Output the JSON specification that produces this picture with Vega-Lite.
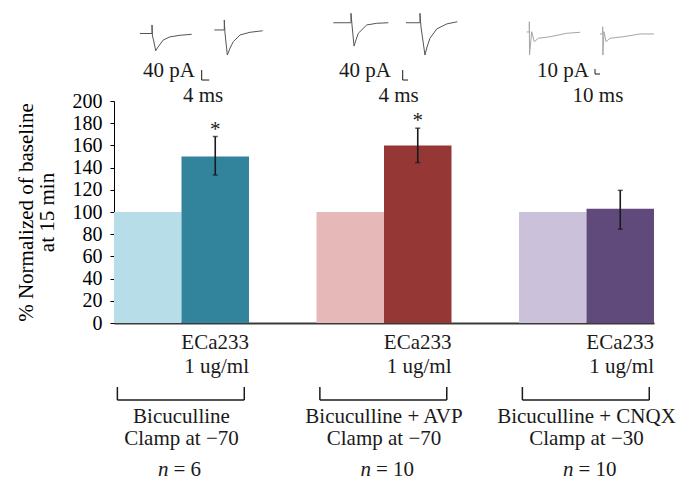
{
  "$schema": "https://vega.github.io/schema/vega-lite/v6.json",
  "width": 540,
  "height": 222,
  "autosize": {"type": "none"},
  "padding": {"left": 114, "top": 101, "right": 35, "bottom": 166},
  "background": "white",
  "config": {"font": "Liberation Serif", "view": {"stroke": null}},
  "datasets": {
    "bars": [
      {"group": "Bicuculline", "treatment": "Baseline", "start": 0, "mid": 0.5, "end": 1, "value": 100},
      {"group": "Bicuculline", "treatment": "ECa233 1 ug/ml", "start": 1, "mid": 1.5, "end": 2, "value": 150, "lo": 133.3, "hi": 168, "sig": "*"},
      {"group": "Bicuculline + AVP", "treatment": "Baseline", "start": 3, "mid": 3.5, "end": 4, "value": 100},
      {"group": "Bicuculline + AVP", "treatment": "ECa233 1 ug/ml", "start": 4, "mid": 4.5, "end": 5, "value": 160, "lo": 144.5, "hi": 175.5, "sig": "*"},
      {"group": "Bicuculline + CNQX", "treatment": "Baseline", "start": 6, "mid": 6.5, "end": 7, "value": 100},
      {"group": "Bicuculline + CNQX", "treatment": "ECa233 1 ug/ml", "start": 7, "mid": 7.5, "end": 8, "value": 103, "lo": 84.5, "hi": 119.5}
    ],
    "groups": [
      {"start": 0, "center": 1, "end": 2, "bl": 0.05, "br": 1.93, "drug": "ECa233", "dose": "1 ug/ml", "cond": "Bicuculline", "clamp": "Clamp at −70", "n": "= 6"},
      {"start": 3, "center": 4, "end": 5, "bl": 3.05, "br": 4.93, "drug": "ECa233", "dose": "1 ug/ml", "cond": "Bicuculline + AVP", "clamp": "Clamp at −70", "n": "= 10"},
      {"start": 6, "center": 7, "end": 8, "bl": 6.05, "br": 7.93, "drug": "ECa233", "dose": "1 ug/ml", "cond": "Bicuculline + CNQX", "clamp": "Clamp at −30", "n": "= 10"}
    ],
    "traces": [
      {"trace": "t1", "kind": "dark", "i": 0, "t": 0.385, "v": 260.8},
      {"trace": "t1", "kind": "dark", "i": 1, "t": 0.563, "v": 260.8},
      {"trace": "t1", "kind": "dark", "i": 2, "t": 0.563, "v": 268.5},
      {"trace": "t1", "kind": "dark", "i": 3, "t": 0.57, "v": 258.6},
      {"trace": "t1", "kind": "dark", "i": 4, "t": 0.585, "v": 255.0},
      {"trace": "t1", "kind": "dark", "i": 5, "t": 0.618, "v": 245.3},
      {"trace": "t1", "kind": "dark", "i": 6, "t": 0.652, "v": 248.6},
      {"trace": "t1", "kind": "dark", "i": 7, "t": 0.73, "v": 255.0},
      {"trace": "t1", "kind": "dark", "i": 8, "t": 0.83, "v": 257.8},
      {"trace": "t1", "kind": "dark", "i": 9, "t": 0.978, "v": 259.2},
      {"trace": "t1", "kind": "dark", "i": 10, "t": 1.151, "v": 260.1},
      {"trace": "t2", "kind": "dark", "i": 0, "t": 1.486, "v": 264.0},
      {"trace": "t2", "kind": "dark", "i": 1, "t": 1.634, "v": 264.0},
      {"trace": "t2", "kind": "dark", "i": 2, "t": 1.634, "v": 273.0},
      {"trace": "t2", "kind": "dark", "i": 3, "t": 1.644, "v": 261.3},
      {"trace": "t2", "kind": "dark", "i": 4, "t": 1.679, "v": 241.4},
      {"trace": "t2", "kind": "dark", "i": 5, "t": 1.719, "v": 247.7},
      {"trace": "t2", "kind": "dark", "i": 6, "t": 1.767, "v": 253.4},
      {"trace": "t2", "kind": "dark", "i": 7, "t": 1.867, "v": 259.5},
      {"trace": "t2", "kind": "dark", "i": 8, "t": 2.015, "v": 261.9},
      {"trace": "t2", "kind": "dark", "i": 9, "t": 2.203, "v": 263.3},
      {"trace": "t3", "kind": "dark", "i": 0, "t": 3.249, "v": 270.5},
      {"trace": "t3", "kind": "dark", "i": 1, "t": 3.511, "v": 270.5},
      {"trace": "t3", "kind": "dark", "i": 2, "t": 3.511, "v": 279.0},
      {"trace": "t3", "kind": "dark", "i": 3, "t": 3.526, "v": 268.5},
      {"trace": "t3", "kind": "dark", "i": 4, "t": 3.556, "v": 249.5},
      {"trace": "t3", "kind": "dark", "i": 5, "t": 3.585, "v": 255.0},
      {"trace": "t3", "kind": "dark", "i": 6, "t": 3.619, "v": 261.0},
      {"trace": "t3", "kind": "dark", "i": 7, "t": 3.744, "v": 268.5},
      {"trace": "t3", "kind": "dark", "i": 8, "t": 3.892, "v": 270.0},
      {"trace": "t3", "kind": "dark", "i": 9, "t": 4.064, "v": 270.5},
      {"trace": "t4", "kind": "dark", "i": 0, "t": 4.326, "v": 270.5},
      {"trace": "t4", "kind": "dark", "i": 1, "t": 4.533, "v": 270.5},
      {"trace": "t4", "kind": "dark", "i": 2, "t": 4.533, "v": 279.0},
      {"trace": "t4", "kind": "dark", "i": 3, "t": 4.548, "v": 266.7},
      {"trace": "t4", "kind": "dark", "i": 4, "t": 4.607, "v": 241.4},
      {"trace": "t4", "kind": "dark", "i": 5, "t": 4.637, "v": 248.6},
      {"trace": "t4", "kind": "dark", "i": 6, "t": 4.681, "v": 256.5},
      {"trace": "t4", "kind": "dark", "i": 7, "t": 4.781, "v": 264.9},
      {"trace": "t4", "kind": "dark", "i": 8, "t": 4.929, "v": 269.4},
      {"trace": "t4", "kind": "dark", "i": 9, "t": 5.086, "v": 271.4},
      {"trace": "t5", "kind": "light", "i": 0, "t": 6.114, "v": 262.2},
      {"trace": "t5", "kind": "light", "i": 1, "t": 6.153, "v": 262.2},
      {"trace": "t5", "kind": "light", "i": 2, "t": 6.153, "v": 271.4},
      {"trace": "t5", "kind": "light", "i": 3, "t": 6.156, "v": 241.4},
      {"trace": "t5", "kind": "light", "i": 4, "t": 6.188, "v": 262.4},
      {"trace": "t5", "kind": "light", "i": 5, "t": 6.227, "v": 253.4},
      {"trace": "t5", "kind": "light", "i": 6, "t": 6.286, "v": 256.5},
      {"trace": "t5", "kind": "light", "i": 7, "t": 6.459, "v": 257.9},
      {"trace": "t5", "kind": "light", "i": 8, "t": 6.707, "v": 261.0},
      {"trace": "t5", "kind": "light", "i": 9, "t": 6.904, "v": 261.9},
      {"trace": "t6", "kind": "light", "i": 0, "t": 7.2, "v": 260.4},
      {"trace": "t6", "kind": "light", "i": 1, "t": 7.24, "v": 260.4},
      {"trace": "t6", "kind": "light", "i": 2, "t": 7.24, "v": 266.9},
      {"trace": "t6", "kind": "light", "i": 3, "t": 7.243, "v": 241.4},
      {"trace": "t6", "kind": "light", "i": 4, "t": 7.259, "v": 262.4},
      {"trace": "t6", "kind": "light", "i": 5, "t": 7.289, "v": 253.4},
      {"trace": "t6", "kind": "light", "i": 6, "t": 7.348, "v": 256.5},
      {"trace": "t6", "kind": "light", "i": 7, "t": 7.545, "v": 257.9},
      {"trace": "t6", "kind": "light", "i": 8, "t": 7.793, "v": 260.4},
      {"trace": "t6", "kind": "light", "i": 9, "t": 8.0, "v": 260.4},
      {"trace": "s1", "kind": "scale", "i": 0, "t": 1.299, "v": 227.9},
      {"trace": "s1", "kind": "scale", "i": 1, "t": 1.299, "v": 218.9},
      {"trace": "s1", "kind": "scale", "i": 2, "t": 1.412, "v": 218.9},
      {"trace": "s2", "kind": "scale", "i": 0, "t": 4.277, "v": 227.9},
      {"trace": "s2", "kind": "scale", "i": 1, "t": 4.277, "v": 218.9},
      {"trace": "s2", "kind": "scale", "i": 2, "t": 4.356, "v": 218.9},
      {"trace": "s3", "kind": "scale", "i": 0, "t": 7.126, "v": 228.8},
      {"trace": "s3", "kind": "scale", "i": 1, "t": 7.126, "v": 224.3},
      {"trace": "s3", "kind": "scale", "i": 2, "t": 7.2, "v": 224.3}
    ],
    "scalelabels": [
      {"t": 0.815, "v": 227.3, "label": "40 pA"},
      {"t": 1.319, "v": 204.1, "label": "4 ms"},
      {"t": 3.719, "v": 227.3, "label": "40 pA"},
      {"t": 4.215, "v": 204.1, "label": "4 ms"},
      {"t": 6.652, "v": 227.3, "label": "10 pA"},
      {"t": 7.17, "v": 204.1, "label": "10 ms"}
    ]
  },
  "encoding": {
    "x": {"type": "quantitative", "scale": {"domain": [0, 8], "nice": false, "zero": false},
      "axis": {"labels": false, "ticks": false, "grid": false, "title": null, "domainColor": "#3a3a3a", "domainWidth": 2}},
    "y": {"type": "quantitative", "scale": {"domain": [0, 200], "nice": false},
      "axis": {"values": [0, 20, 40, 60, 80, 100, 120, 140, 160, 180, 200], "grid": false,
        "title": ["% Normalized of baseline", "at 15 min"],
        "titleFontSize": 21, "titleFontWeight": "normal", "titleColor": "#000", "titleLineHeight": 21, "titlePadding": 15,
        "labelFontSize": 20, "labelColor": "#000", "labelPadding": 8,
        "tickColor": "#000", "tickSize": 4, "domainColor": "#000"}}
  },
  "layer": [
    {
      "data": {"name": "bars"},
      "mark": {"type": "rect"},
      "encoding": {
        "x": {"field": "start"},
        "x2": {"field": "end"},
        "y": {"field": "value"},
        "y2": {"datum": 0},
        "color": {"field": "start", "type": "nominal",
          "scale": {"domain": [0, 1, 3, 4, 6, 7],
            "range": ["#b6dde8", "#31849b", "#e6b9b8", "#953735", "#ccc1da", "#604a7b"]},
          "legend": null}
      }
    },
    {
      "data": {"name": "bars"},
      "transform": [{"filter": {"field": "lo", "gt": 0}}],
      "mark": {"type": "rule", "color": "#1a1a1a", "strokeWidth": 1.6},
      "encoding": {"x": {"field": "mid"}, "y": {"field": "lo"}, "y2": {"field": "hi"}}
    },
    {
      "data": {"name": "bars"},
      "transform": [{"filter": {"field": "lo", "gt": 0}}],
      "mark": {"type": "tick", "orient": "horizontal", "size": 5, "thickness": 1.5, "color": "#1a1a1a"},
      "encoding": {"x": {"field": "mid"}, "y": {"field": "hi"}}
    },
    {
      "data": {"name": "bars"},
      "transform": [{"filter": {"field": "lo", "gt": 0}}],
      "mark": {"type": "tick", "orient": "horizontal", "size": 5, "thickness": 1.5, "color": "#1a1a1a"},
      "encoding": {"x": {"field": "mid"}, "y": {"field": "lo"}}
    },
    {
      "data": {"name": "bars"},
      "transform": [{"filter": {"field": "sig", "equal": "*"}}],
      "mark": {"type": "text", "fontSize": 21, "align": "center", "baseline": "alphabetic", "dy": -1, "color": "#1a1a1a"},
      "encoding": {"x": {"field": "mid"}, "y": {"field": "hi"}, "text": {"field": "sig"}}
    },
    {
      "data": {"name": "groups"},
      "mark": {"type": "text", "fontSize": 21, "align": "right", "baseline": "middle", "color": "#1a1a1a"},
      "encoding": {"x": {"field": "end"}, "y": {"datum": -18}, "text": {"field": "drug"}}
    },
    {
      "data": {"name": "groups"},
      "mark": {"type": "text", "fontSize": 21, "align": "right", "baseline": "middle", "color": "#1a1a1a"},
      "encoding": {"x": {"field": "end"}, "y": {"datum": -39.6}, "text": {"field": "dose"}}
    },
    {
      "data": {"name": "groups"},
      "mark": {"type": "rule", "color": "#1a1a1a", "strokeWidth": 1.5},
      "encoding": {"x": {"field": "bl"}, "x2": {"field": "br"}, "y": {"datum": -69.4}}
    },
    {
      "data": {"name": "groups"},
      "mark": {"type": "rule", "color": "#1a1a1a", "strokeWidth": 1.5},
      "encoding": {"x": {"field": "bl"}, "y": {"datum": -57.7}, "y2": {"datum": -69.4}}
    },
    {
      "data": {"name": "groups"},
      "mark": {"type": "rule", "color": "#1a1a1a", "strokeWidth": 1.5},
      "encoding": {"x": {"field": "br"}, "y": {"datum": -57.7}, "y2": {"datum": -69.4}}
    },
    {
      "data": {"name": "groups"},
      "mark": {"type": "text", "fontSize": 21, "align": "center", "baseline": "middle", "color": "#1a1a1a"},
      "encoding": {"x": {"field": "center"}, "y": {"datum": -84.7}, "text": {"field": "cond"}}
    },
    {
      "data": {"name": "groups"},
      "mark": {"type": "text", "fontSize": 21, "align": "center", "baseline": "middle", "color": "#1a1a1a"},
      "encoding": {"x": {"field": "center"}, "y": {"datum": -104.5}, "text": {"field": "clamp"}}
    },
    {
      "data": {"name": "groups"},
      "mark": {"type": "text", "fontSize": 21, "fontStyle": "italic", "align": "right", "baseline": "middle", "dx": -13, "color": "#1a1a1a"},
      "encoding": {"x": {"field": "center"}, "y": {"datum": -132}, "text": {"value": "n"}}
    },
    {
      "data": {"name": "groups"},
      "mark": {"type": "text", "fontSize": 21, "align": "left", "baseline": "middle", "dx": -8, "color": "#1a1a1a"},
      "encoding": {"x": {"field": "center"}, "y": {"datum": -132}, "text": {"field": "n"}}
    },
    {
      "data": {"name": "traces"},
      "mark": {"type": "line", "strokeWidth": 1},
      "encoding": {
        "x": {"field": "t"},
        "y": {"field": "v"},
        "detail": {"field": "trace"},
        "order": {"field": "i"},
        "stroke": {"field": "kind", "type": "nominal",
          "scale": {"domain": ["dark", "light", "scale"], "range": ["#555555", "#a6a6a6", "#1a1a1a"]},
          "legend": null}
      }
    },
    {
      "data": {"name": "scalelabels"},
      "mark": {"type": "text", "fontSize": 21, "baseline": "middle", "color": "#1a1a1a"},
      "encoding": {"x": {"field": "t"}, "y": {"field": "v"}, "text": {"field": "label"}}
    }
  ]
}
